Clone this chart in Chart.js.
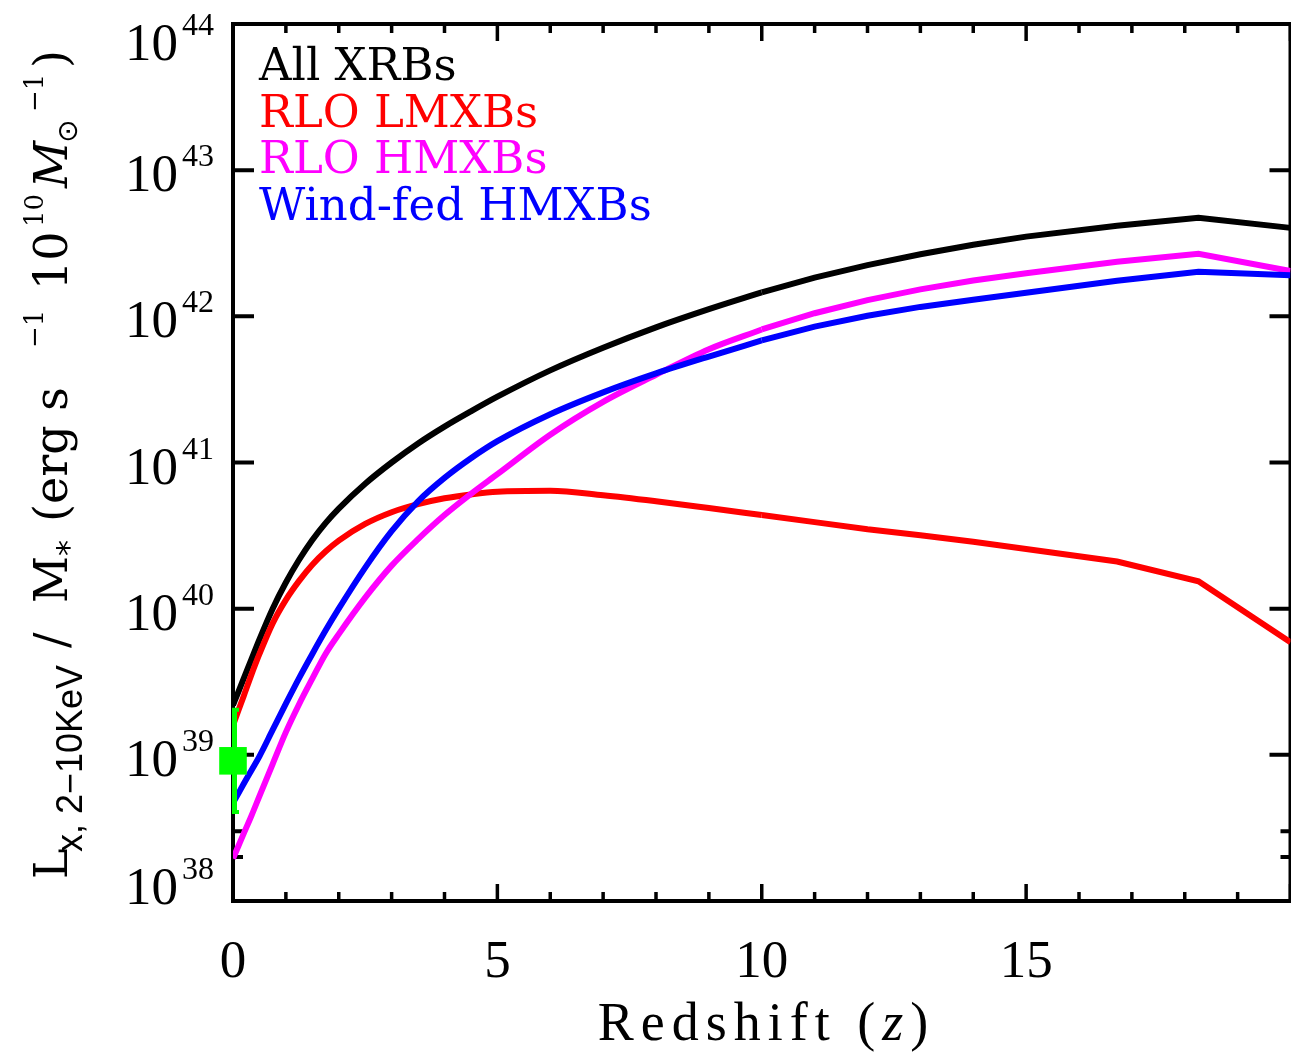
<!DOCTYPE html>
<html>
<head>
<meta charset="utf-8">
<title>X-ray luminosity per stellar mass vs redshift</title>
<script src="https://cdn.jsdelivr.net/npm/chart.js@4.4.1/dist/chart.umd.min.js"></script>
<style>
  html, body { margin: 0; padding: 0; background: #fff; overflow: hidden; }
  #wrap { width: 1291px; height: 1052px; overflow: hidden; }
  canvas { display: block; }
</style>
</head>
<body>
<div id="wrap"><canvas id="chart" width="1310" height="1052"></canvas></div>
<script>
// values (erg s^-1 per 10^10 Msun)
const redshift = [0, 0.1, 0.2, 0.35, 0.5, 0.75, 1, 1.25, 1.5, 1.75, 2, 2.5, 3, 3.5, 4, 4.5, 5,
  6, 7, 8, 9, 10, 11, 12, 13, 14, 15, 16.72, 18.26, 20];

const allXRBs = [2.19e39, 2.69e39, 3.31e39, 4.52e39, 6.17e39, 1.00e40, 1.51e40, 2.16e40, 2.95e40,
  3.85e40, 4.84e40, 7.16e40, 1.00e41, 1.35e41, 1.76e41, 2.24e41, 2.82e41, 4.27e41, 6.10e41,
  8.41e41, 1.12e42, 1.46e42, 1.84e42, 2.24e42, 2.66e42, 3.09e42, 3.51e42, 4.16e42, 4.72e42, 4.03e42];

const rloLMXBs = [1.59e39, 2.00e39, 2.51e39, 3.55e39, 4.90e39, 7.94e39, 1.15e40, 1.55e40, 2.00e40,
  2.46e40, 2.92e40, 3.80e40, 4.57e40, 5.19e40, 5.69e40, 6.05e40, 6.31e40, 6.40e40, 5.97e40,
  5.43e40, 4.88e40, 4.37e40, 3.91e40, 3.49e40, 3.18e40, 2.87e40, 2.56e40, 2.10e40, 1.54e40, 5.89e39];

const rloHMXBs = [1.95e38, 2.37e38, 2.88e38, 3.84e38, 5.22e38, 8.65e38, 1.43e39, 2.22e39, 3.32e39,
  4.90e39, 6.70e39, 1.19e40, 1.97e40, 2.99e40, 4.37e40, 6.10e40, 8.32e40, 1.55e41, 2.60e41,
  3.98e41, 5.96e41, 8.13e41, 1.05e42, 1.29e42, 1.53e42, 1.76e42, 1.97e42, 2.36e42, 2.68e42, 2.04e42];

const windHMXBs = [4.68e38, 5.43e38, 6.31e38, 7.85e38, 9.77e38, 1.48e39, 2.24e39, 3.35e39, 4.90e39,
  7.08e39, 1.00e40, 1.91e40, 3.39e40, 5.43e40, 7.85e40, 1.07e41, 1.40e41, 2.14e41, 3.02e41,
  4.07e41, 5.31e41, 6.84e41, 8.51e41, 1.01e42, 1.16e42, 1.30e42, 1.45e42, 1.75e42, 2.02e42, 1.91e42];

// observed local value with error bar
const obsZ = [0];
const obsLx = [9.1e38];
const obsLow = [4.0e38];
const obsHigh = [2.07e39];

const seriesNames = ["All XRBs", "RLO LMXBs", "RLO HMXBs", "Wind-fed HMXBs"];
const seriesColors = ["#000000", "#ff0000", "#ff00ff", "#0000ff"];
const seriesValues = [allXRBs, rloLMXBs, rloHMXBs, windHMXBs];

const xMajorTicks = [0, 5, 10, 15, 20];
const xMinorTicks = [1, 2, 3, 4, 6, 7, 8, 9, 11, 12, 13, 14, 16, 17, 18, 19];
const xTickLabels = ["0", "5", "10", "15"];
const yMajorTicks = [1e38, 1e39, 1e40, 1e41, 1e42, 1e43, 1e44];
const yMinorTicks = [2e38, 3e38];
const yTickExponents = ["38", "39", "40", "41", "42", "43", "44"];

// the curves are smooth at low z and straight segments further out
const SMOOTH_UNTIL = 10;

const pointsBetween = (ys, lo, hi) =>
  redshift.map((z, i) => ({ x: z, y: ys[i] })).filter((p) => p.x >= lo && p.x <= hi);

const SERIF = '"Liberation Serif", "DejaVu Serif", serif';
const DJSERIF = '"DejaVu Serif", serif';

// draws a run of text pieces with extra letter spacing
function drawSpaced(ctx, pieces, cx, baseY, spacing) {
  let total = 0;
  pieces.forEach((p) => {
    ctx.font = p.f;
    for (const ch of p.t) total += ctx.measureText(ch).width + spacing;
  });
  total -= spacing;
  let x = cx - total / 2;
  ctx.textAlign = "left";
  pieces.forEach((p) => {
    ctx.font = p.f;
    for (const ch of p.t) {
      ctx.fillText(ch, x, baseY);
      x += ctx.measureText(ch).width + spacing;
    }
  });
}

const frameAndText = {
  id: "frameAndText",
  beforeDatasetsDraw(chart) {
    const { ctx, chartArea: a, scales: { x, y } } = chart;
    ctx.save();
    ctx.strokeStyle = "#000";
    ctx.lineWidth = 4;
    ctx.strokeRect(a.left, a.top, a.right - a.left, a.bottom - a.top);

    ctx.lineWidth = 3.5;
    ctx.beginPath();
    xMajorTicks.forEach((v) => {
      const px = x.getPixelForValue(v);
      ctx.moveTo(px, a.bottom); ctx.lineTo(px, a.bottom - 17);
      ctx.moveTo(px, a.top); ctx.lineTo(px, a.top + 17);
    });
    xMinorTicks.forEach((v) => {
      const px = x.getPixelForValue(v);
      ctx.moveTo(px, a.bottom); ctx.lineTo(px, a.bottom - 9);
      ctx.moveTo(px, a.top); ctx.lineTo(px, a.top + 9);
    });
    ctx.stroke();

    ctx.lineWidth = 4;
    ctx.beginPath();
    yMajorTicks.forEach((v) => {
      const py = y.getPixelForValue(v);
      ctx.moveTo(a.left, py); ctx.lineTo(a.left + 21, py);
      ctx.moveTo(a.right, py); ctx.lineTo(a.right - 21, py);
    });
    yMinorTicks.forEach((v) => {
      const py = y.getPixelForValue(v);
      ctx.moveTo(a.left, py); ctx.lineTo(a.left + 10, py);
      ctx.moveTo(a.right, py); ctx.lineTo(a.right - 10, py);
    });
    ctx.stroke();
    ctx.restore();
  },
  afterDatasetsDraw(chart) {
    const { ctx, scales: { x, y } } = chart;
    ctx.save();
    ctx.strokeStyle = "#00ff00";
    obsZ.forEach((z, i) => {
      const px = x.getPixelForValue(z);
      const lo = y.getPixelForValue(obsLow[i]);
      const hi = y.getPixelForValue(obsHigh[i]);
      ctx.lineWidth = 5;
      ctx.beginPath();
      ctx.moveTo(px + 1.5, lo); ctx.lineTo(px + 1.5, hi);
      ctx.stroke();
      ctx.lineWidth = 4;
      ctx.beginPath();
      ctx.moveTo(px - 1, lo - 1); ctx.lineTo(px + 6, lo - 1);
      ctx.moveTo(px - 1, hi + 1); ctx.lineTo(px + 6, hi + 1);
      ctx.stroke();
    });
    ctx.restore();
  },
  afterDraw(chart) {
    const { ctx, chartArea: a, scales: { x, y } } = chart;
    ctx.save();
    ctx.fillStyle = "#000";
    ctx.textBaseline = "alphabetic";

    // y tick labels 10^n
    yMajorTicks.forEach((v, i) => {
      const py = y.getPixelForValue(v);
      let shift = 0;
      if (py - 25 < a.top - 10) shift = (a.top - 10) - (py - 25);
      if (py + 21 > a.bottom + 3) shift = (a.bottom + 3) - (py + 21);
      ctx.textAlign = "right";
      ctx.font = "32px " + SERIF;
      const supRight = a.left - 19;
      ctx.fillText(yTickExponents[i], supRight, py - 4 + shift);
      const w = ctx.measureText(yTickExponents[i]).width;
      ctx.font = "53px " + SERIF;
      ctx.fillText("10", supRight - w - 4, py + 21 + shift);
    });

    // x tick labels
    ctx.textAlign = "center";
    ctx.font = "53px " + SERIF;
    xTickLabels.forEach((t) => {
      ctx.fillText(t, x.getPixelForValue(Number(t)), a.bottom + 76);
    });

    // x title
    drawSpaced(ctx, [
      { t: "Redshift (", f: "54px " + SERIF },
      { t: "z", f: "italic 54px " + SERIF },
      { t: ")", f: "54px " + SERIF },
    ], 763, 1040, 7);

    // legend as coloured text
    ctx.textAlign = "left";
    ctx.font = "45px " + DJSERIF;
    seriesNames.forEach((name, i) => {
      ctx.fillStyle = seriesColors[i];
      ctx.fillText(name, a.left + 26, a.top + 56 + i * 46.7);
    });

    // y title, rotated
    const MAIN = "46px " + DJSERIF;
    const runs = [
      { t: "L", at: 879, dy: 0, f: MAIN },
      { t: "x, 2\u221210KeV", at: 852, dy: 15, f: '36px "Liberation Sans", sans-serif' },
      { t: "/", at: 648, dy: 0, f: MAIN },
      { t: "M", at: 603, dy: 0, f: MAIN },
      { t: "*", at: 556, dy: 12, f: '32px "DejaVu Sans", sans-serif' },
      { t: "(erg s", at: 522, dy: 0, f: MAIN },
      { t: "\u22121", at: 348, dy: -24, f: "26px " + DJSERIF },
      { t: "10", at: 290, dy: 0, f: MAIN },
      { t: "10", at: 227, dy: -24, f: "26px " + DJSERIF },
      { t: "M", at: 188, dy: 0, f: "italic " + MAIN },
      { t: "\u2299", at: 143, dy: 10, f: '28px "DejaVu Sans", sans-serif' },
      { t: "\u22121", at: 112, dy: -24, f: "26px " + DJSERIF },
      { t: ")", at: 68, dy: 0, f: MAIN },
    ];
    ctx.fillStyle = "#000";
    ctx.translate(67, 0);
    ctx.rotate(-Math.PI / 2);
    ctx.textAlign = "left";
    runs.forEach((r) => {
      ctx.font = r.f;
      ctx.fillText(r.t, -r.at, r.dy);
    });
    ctx.restore();
  },
};

// each series: a smooth part and a straight-segment part, same colour
const curveSets = [];
seriesValues.forEach((ys, i) => {
  const base = { label: seriesNames[i], borderColor: seriesColors[i], borderWidth: 6,
    pointRadius: 0, fill: false, order: 4 - i };
  curveSets.push({ ...base, data: pointsBetween(ys, 0, SMOOTH_UNTIL), cubicInterpolationMode: "monotone" });
  curveSets.push({ ...base, data: pointsBetween(ys, SMOOTH_UNTIL, 20), tension: 0 });
});

new Chart(document.getElementById("chart"), {
  type: "line",
  data: {
    datasets: [
      ...curveSets,
      {
        label: "Observed",
        data: obsZ.map((z, i) => ({ x: z, y: obsLx[i] })),
        showLine: false,
        pointStyle: "rect",
        pointRadius: 19.5,
        pointBorderWidth: 0,
        backgroundColor: "#00ff00",
        borderColor: "#00ff00",
        clip: false,
        order: -1,
      },
    ],
  },
  options: {
    responsive: false,
    animation: false,
    devicePixelRatio: 1,
    layout: { padding: { left: 233, top: 24, right: 10, bottom: 151 } },
    elements: { point: { radius: 0, hoverRadius: 0 } },
    scales: {
      x: { type: "linear", min: 0, max: 20, display: false },
      y: { type: "logarithmic", min: 1e38, max: 1e44, display: false },
    },
    plugins: {
      legend: { display: false },
      tooltip: { enabled: false },
    },
  },
  plugins: [frameAndText],
});
</script>
</body>
</html>
